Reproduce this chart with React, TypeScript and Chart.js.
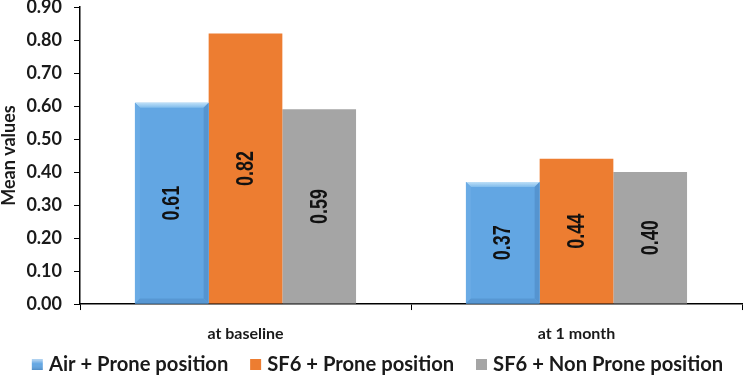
import React, { useEffect, useRef } from "react";
import { Chart, registerables } from "chart.js";

Chart.register(...registerables);

// Chart data
const categories = ["at baseline", "at 1 month"];
const seriesNames = ["Air + Prone position", "SF6 + Prone position", "SF6 + Non Prone position"];
const airProne = [0.61, 0.37];
const sf6Prone = [0.82, 0.44];
const sf6NonProne = [0.59, 0.4];
const yMin = 0;
const yMax = 0.9;
const yStep = 0.1;

const BLUE = "#62a6e3";
const ORANGE = "#ed7d31";
const GREY = "#a5a5a5";
const TEXT = "#1a1a1a";
const FONT = "Lato, 'Open Sans', sans-serif";

// Legend marker: an 11px square placed toward the right of a wider transparent
// image, so it sits just before its label text
function swatch(fill: string, bevel: boolean): HTMLCanvasElement {
  const c = document.createElement("canvas");
  c.width = 40;
  c.height = 11;
  const g = c.getContext("2d")!;
  const ox = 23;
  g.fillStyle = fill;
  g.fillRect(ox, 0, 11, 11);
  if (bevel) {
    const grad = g.createLinearGradient(0, 0, 0, 11);
    grad.addColorStop(0, "rgba(255,255,255,0.55)");
    grad.addColorStop(0.4, "rgba(255,255,255,0.0)");
    grad.addColorStop(1, "rgba(0,40,90,0.25)");
    g.fillStyle = grad;
    g.fillRect(ox, 0, 11, 11);
  }
  return c;
}

// Let the category labels extend below the (tight) x-axis box
const labelRoomPlugin = {
  id: "labelRoom",
  beforeDraw(chart: any) {
    const x = chart.scales.x;
    if (x) x.bottom = chart.height;
  },
};

// Bevelled edges on the first series' bars
const bevelPlugin = {
  id: "bevelBars",
  afterDatasetsDraw(chart: any) {
    const meta = chart.getDatasetMeta(0);
    const ctx = chart.ctx as CanvasRenderingContext2D;
    meta.data.forEach((bar: any) => {
      const { x, y, base, width } = bar.getProps(["x", "y", "base", "width"], true);
      const l = x - width / 2;
      const r = x + width / 2;
      const t = y;
      const b = base;
      const e = 5;
      ctx.save();
      // top
      const gt = ctx.createLinearGradient(0, t, 0, t + e);
      gt.addColorStop(0, "#bfe0f8");
      gt.addColorStop(1, "#80bcec");
      ctx.fillStyle = gt;
      ctx.beginPath();
      ctx.moveTo(l, t);
      ctx.lineTo(r, t);
      ctx.lineTo(r - e, t + e);
      ctx.lineTo(l + e, t + e);
      ctx.closePath();
      ctx.fill();
      // left
      ctx.fillStyle = "#6aabe5";
      ctx.beginPath();
      ctx.moveTo(l, t);
      ctx.lineTo(l + e, t + e);
      ctx.lineTo(l + e, b - e);
      ctx.lineTo(l, b);
      ctx.closePath();
      ctx.fill();
      // right
      ctx.fillStyle = "#5594d0";
      ctx.beginPath();
      ctx.moveTo(r, t);
      ctx.lineTo(r - e, t + e);
      ctx.lineTo(r - e, b - e);
      ctx.lineTo(r, b);
      ctx.closePath();
      ctx.fill();
      // bottom
      ctx.fillStyle = "#5797d3";
      ctx.beginPath();
      ctx.moveTo(l, b);
      ctx.lineTo(l + e, b - e);
      ctx.lineTo(r - e, b - e);
      ctx.lineTo(r, b);
      ctx.closePath();
      ctx.fill();
      ctx.restore();
    });
  },
};

// Vertical value labels in the middle of each bar
const valueLabelPlugin = {
  id: "valueLabels",
  afterDatasetsDraw(chart: any) {
    const ctx = chart.ctx as CanvasRenderingContext2D;
    chart.data.datasets.forEach((ds: any, i: number) => {
      const meta = chart.getDatasetMeta(i);
      meta.data.forEach((bar: any, j: number) => {
        const v = ds.data[j] as number;
        const { x, y, base } = bar.getProps(["x", "y", "base"], true);
        ctx.save();
        ctx.translate(x + 1, (y + base) / 2);
        ctx.rotate(-Math.PI / 2);
        ctx.scale(0.78, 1);
        ctx.font = "bold 23px 'Liberation Sans', Arial, sans-serif";
        ctx.fillStyle = "#111";
        ctx.textAlign = "center";
        ctx.textBaseline = "middle";
        ctx.fillText(v.toFixed(2), 0, 0);
        ctx.restore();
      });
    });
  },
};

export default function App() {
  const ref = useRef<HTMLCanvasElement | null>(null);

  useEffect(() => {
    if (!ref.current) return;
    const markers = [swatch(BLUE, true), swatch(ORANGE, false), swatch(GREY, false)];
    const chart = new Chart(ref.current, {
      type: "bar",
      data: {
        labels: categories,
        datasets: [
          { label: seriesNames[0], data: airProne, backgroundColor: BLUE },
          { label: seriesNames[1], data: sf6Prone, backgroundColor: ORANGE },
          { label: seriesNames[2], data: sf6NonProne, backgroundColor: GREY },
        ],
      },
      options: {
        responsive: false,
        animation: false,
        layout: { padding: { top: 7, right: 2, bottom: 2, left: 0 } },
        datasets: { bar: { categoryPercentage: 0.668, barPercentage: 1 } },
        scales: {
          x: {
            grid: { drawOnChartArea: false, drawTicks: true, tickLength: 6, color: "#000", offset: true },
            border: { color: "#000", width: 1.5 },
            ticks: { color: TEXT, font: { family: FONT, weight: "bold", size: 16 }, padding: 14 },
            afterFit: (s: any) => {
              s.height = 42;
            },
          },
          y: {
            min: yMin,
            max: yMax,
            grid: { drawOnChartArea: false, drawTicks: true, tickLength: 6, color: "#000" },
            border: { color: "#000", width: 1.5 },
            ticks: {
              stepSize: yStep,
              color: TEXT,
              font: { family: FONT, weight: "bold", size: 18 },
              padding: 12,
              callback: (v: any) => Number(v).toFixed(2),
            },
            title: {
              display: true,
              text: "Mean values",
              color: TEXT,
              font: { family: FONT, weight: "bold", size: 18, lineHeight: 1 },
              padding: 0,
            },
            afterFit: (s: any) => {
              s.width = 80;
              s.paddingTop = 0;
              s.paddingBottom = 0;
            },
          },
        },
        plugins: {
          tooltip: { enabled: false },
          legend: {
            position: "bottom",
            labels: {
              color: TEXT,
              font: { family: FONT, weight: "bold", size: 20.2 },
              usePointStyle: true,
              pointStyleWidth: 20,
              padding: 8.75,
              generateLabels: (c: any) => {
                const items = Chart.defaults.plugins.legend.labels.generateLabels(c);
                return items.map((it: any, i: number) => ({ ...it, pointStyle: markers[i] }));
              },
            },
          },
        },
      },
      plugins: [labelRoomPlugin, bevelPlugin, valueLabelPlugin],
    } as any);
    return () => chart.destroy();
  }, []);

  return (
    <div style={{ position: "fixed", left: 0, top: 0, width: 744, height: 387, background: "#fff" }}>
      <canvas ref={ref} width={744} height={387} />
    </div>
  );
}
